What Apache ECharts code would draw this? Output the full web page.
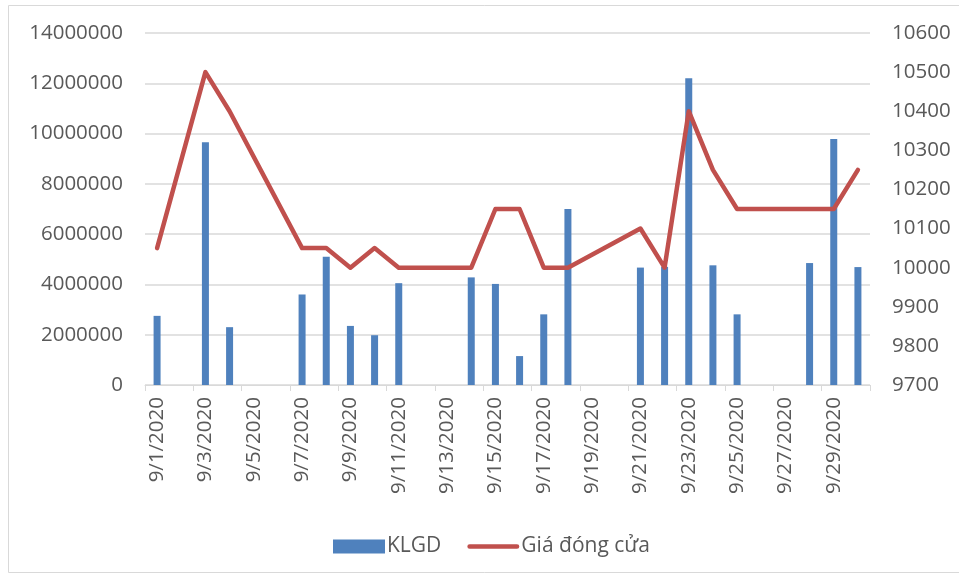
<!DOCTYPE html>
<html>
<head>
<meta charset="utf-8">
<script src="https://cdn.jsdelivr.net/npm/echarts@6/dist/echarts.min.js"></script>
<style>
html,body{margin:0;padding:0;background:#fff;}
#chart{width:959px;height:577px;}
</style>
</head>
<body>
<div id="chart"></div>
<script>
const dates = ["9/1/2020","9/2/2020","9/3/2020","9/4/2020","9/5/2020","9/6/2020","9/7/2020","9/8/2020","9/9/2020","9/10/2020",
"9/11/2020","9/12/2020","9/13/2020","9/14/2020","9/15/2020","9/16/2020","9/17/2020","9/18/2020","9/19/2020","9/20/2020",
"9/21/2020","9/22/2020","9/23/2020","9/24/2020","9/25/2020","9/26/2020","9/27/2020","9/28/2020","9/29/2020","9/30/2020"];
const volume = [2750000,null,9650000,2300000,null,null,3600000,5100000,2350000,1980000,
4050000,null,null,4280000,4020000,1150000,2810000,7000000,null,null,
4670000,4700000,12200000,4760000,2810000,null,null,4850000,9780000,4690000];
const price = [10050,null,10500,10400,null,null,10050,10050,10000,10050,
10000,null,null,10000,10150,10150,10000,10000,null,null,
10100,10000,10400,10250,10150,null,null,10150,10150,10250];
const seriesNames = ["KLGD","Giá đóng cửa"];

const textColor = '#595959';
const font = '"Open Sans", Lato, sans-serif';
const chart = echarts.init(document.getElementById('chart'));
chart.setOption({
  animation:false,
  textStyle:{fontFamily:font},
  graphic:[{type:'rect',shape:{x:8.5,y:5.5,width:980,height:567},style:{fill:'none',stroke:'#D9D9D9',lineWidth:1},silent:true,z:-10}],
  grid:{left:145,right:89,top:33,bottom:192,containLabel:false},
  legend:{
    data:[{name:seriesNames[0],icon:'rect'},
          {name:seriesNames[1],icon:'path://M2.5,0 L53.5,0 A2.5,2.5 0 0 1 53.5,5 L2.5,5 A2.5,2.5 0 0 1 2.5,0 Z'}],
    left:328, top:531,
    itemWidth:52,itemHeight:14,itemGap:26,
    textStyle:{color:textColor,fontSize:21,fontFamily:font,padding:[0,0,0,-3]}
  },
  xAxis:{
    type:'category',data:dates,boundaryGap:true,
    axisLine:{lineStyle:{color:'#D9D9D9',width:1}},
    axisTick:{show:true,interval:1,length:6,lineStyle:{color:'#D9D9D9'}},
    axisLabel:{interval:1,rotate:90,color:textColor,fontSize:20.5,margin:12,fontFamily:font}
  },
  yAxis:[{
    type:'value',min:0,max:14000000,interval:2000000,
    axisLine:{show:false},axisTick:{show:false},
    axisLabel:{color:textColor,fontSize:20.5,margin:22,fontFamily:font,formatter:v=>String(v)},
    splitLine:{lineStyle:{color:'#D9D9D9',width:1.5}}
  },{
    type:'value',min:9700,max:10600,interval:100,
    axisLine:{show:false},axisTick:{show:false},
    axisLabel:{color:textColor,fontSize:20.5,margin:22,fontFamily:font,formatter:v=>String(v)},
    splitLine:{show:false}
  }],
  series:[{
    name:seriesNames[0],type:'bar',data:volume,yAxisIndex:0,barWidth:7,
    itemStyle:{color:'#4F81BD'}
  },{
    name:seriesNames[1],type:'line',data:price,yAxisIndex:1,connectNulls:true,
    symbol:'none',lineStyle:{color:'#C0504D',width:4.5,cap:'round',join:'round'},
    itemStyle:{color:'#C0504D'},z:5
  }]
});
</script>
</body>
</html>
